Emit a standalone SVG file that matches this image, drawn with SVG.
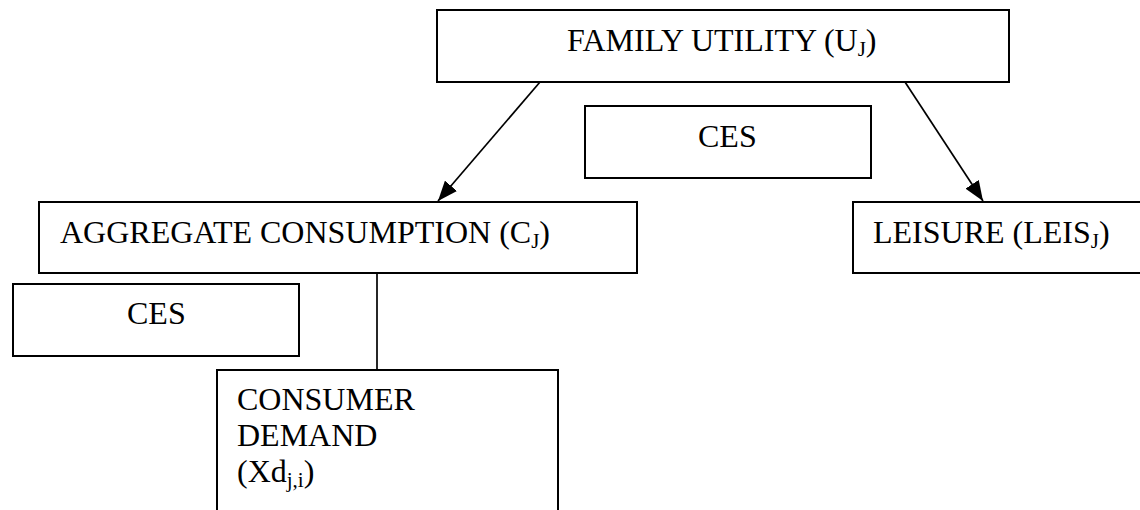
<svg xmlns="http://www.w3.org/2000/svg" width="1140" height="510" viewBox="0 0 1140 510">
<style>
.box{fill:#fff;stroke:#000;stroke-width:2}
.t{font-family:"Liberation Serif","Times New Roman",serif;font-size:32px;fill:#000}
.sub{font-size:21px}
.ln{stroke:#000;stroke-width:1.7;fill:none}
</style>
<defs>
<marker id="ah" viewBox="0 0 20 16" refX="20" refY="8" markerWidth="20" markerHeight="16" orient="auto" markerUnits="userSpaceOnUse">
<path d="M0,0 L20,8 L0,16 z" fill="#000"/>
</marker>
</defs>
<rect width="1140" height="510" fill="#fff"/>
<g id="connectors">
<line class="ln" x1="540" y1="82" x2="438" y2="201" marker-end="url(#ah)"/>
<line class="ln" x1="905" y1="82" x2="983" y2="201" marker-end="url(#ah)"/>
<line class="ln" x1="377" y1="273" x2="377" y2="370"/>
</g>
<g id="family-utility">
<rect class="box" x="437" y="10" width="572" height="72"/>
<text class="t" x="567" y="51">FAMILY UTILITY (U<tspan class="sub" dy="5">J</tspan><tspan dy="-5">)</tspan></text>
</g>
<g id="ces-top">
<rect class="box" x="585" y="106" width="286" height="72"/>
<text class="t" x="698" y="147">CES</text>
</g>
<g id="aggregate-consumption">
<rect class="box" x="39" y="202" width="598" height="71"/>
<text class="t" x="60" y="243">AGGREGATE CONSUMPTION (C<tspan class="sub" dy="5">J</tspan><tspan dy="-5">)</tspan></text>
</g>
<g id="leisure">
<rect class="box" x="853" y="202" width="300" height="71"/>
<text class="t" x="873" y="243">LEISURE (LEIS<tspan class="sub" dy="5">J</tspan><tspan dy="-5">)</tspan></text>
</g>
<g id="ces-left">
<rect class="box" x="13" y="284" width="286" height="72"/>
<text class="t" x="127" y="324">CES</text>
</g>
<g id="consumer-demand">
<rect class="box" x="217" y="370" width="341" height="160"/>
<text class="t" x="237" y="410">CONSUMER</text>
<text class="t" x="237" y="446">DEMAND</text>
<text class="t" x="237" y="482">(Xd<tspan class="sub" dy="5">j,i</tspan><tspan dy="-5">)</tspan></text>
</g>
</svg>
